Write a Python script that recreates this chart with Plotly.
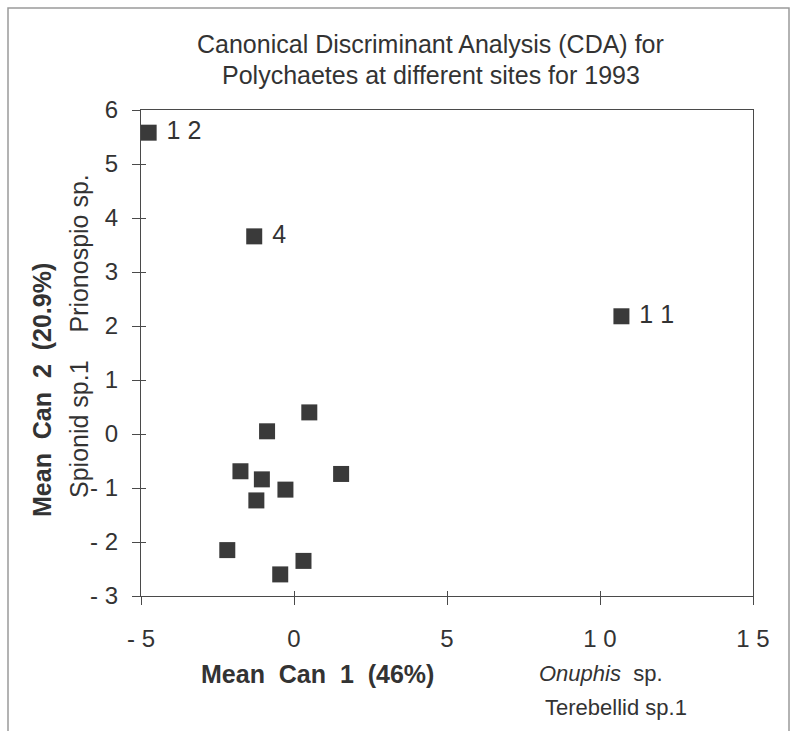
import plotly.graph_objects as go

# Site means on canonical axes
can1 = [-4.75, -1.30, 10.70, 0.50, -0.88, -1.75, -1.05, -0.28, 1.54, -1.23, -2.18, 0.31, -0.45]
can2 = [5.58, 3.66, 2.18, 0.40, 0.05, -0.69, -0.84, -1.03, -0.74, -1.23, -2.15, -2.35, -2.60]
site_labels = ["1 2", "4", "1 1", "", "", "", "", "", "", "", "", "", ""]

x_tickvals = [-5, 0, 5, 10, 15]
x_ticktext = ["- 5", "0", "5", "1 0", "1 5"]
y_tickvals = [-3, -2, -1, 0, 1, 2, 3, 4, 5, 6]
y_ticktext = ["- 3", "- 2", "- 1", "0", "1", "2", "3", "4", "5", "6"]

FONT = "Liberation Sans, Arial, Helvetica, sans-serif"
TXT = "#333333"
W, H = 792, 731
L, R, T, B = 141, 39, 110, 135
PW, PH = W - L - R, H - T - B


def px(xp):
    return (xp - L) / PW


def py(yp):
    return (H - B - yp) / PH


fig = go.Figure()
fig.add_trace(go.Scatter(
    x=can1, y=can2, mode="markers+text",
    marker=dict(symbol="square", size=16, color="#3a3a3a"),
    text=[(" " + s) if s else "" for s in site_labels],
    textposition="middle right",
    textfont=dict(family=FONT, size=25, color=TXT),
    cliponaxis=False, showlegend=False,
))
# invisible trace carrying the inner half of the crossing ticks
fig.add_trace(go.Scatter(x=[can1[0]], y=[can2[0]], xaxis="x2", yaxis="y2",
                         mode="markers", marker=dict(opacity=0), showlegend=False,
                         hoverinfo="skip"))

axis_common = dict(showgrid=False, zeroline=False, linecolor="#4a4a4a", linewidth=1.2,
                   tickcolor="#4a4a4a", tickwidth=1)
fig.update_layout(
    width=W, height=H, margin=dict(l=L, r=R, t=T, b=B),
    paper_bgcolor="white", plot_bgcolor="white",
    xaxis=dict(range=[-5, 15], tickvals=x_tickvals, ticktext=x_ticktext,
               ticks="outside", ticklen=8, mirror=True, showline=True,
               tickfont=dict(family=FONT, size=24, color=TXT), ticklabelstandoff=13,
               **axis_common),
    yaxis=dict(range=[-3, 6], tickvals=y_tickvals, ticktext=y_ticktext,
               ticks="outside", ticklen=8, mirror=True, showline=True,
               tickfont=dict(family=FONT, size=24, color=TXT), ticklabelstandoff=9,
               **axis_common),
    xaxis2=dict(range=[-5, 15], overlaying="x", tickvals=x_tickvals, showticklabels=False,
                ticks="inside", ticklen=5, showline=False, showgrid=False, zeroline=False,
                tickcolor="#4a4a4a"),
    yaxis2=dict(range=[-3, 6], overlaying="y", tickvals=y_tickvals, showticklabels=False,
                ticks="inside", ticklen=5, showline=False, showgrid=False, zeroline=False,
                tickcolor="#4a4a4a"),
)

ann = []
def add(text, xp, yp, size=25, angle=0):
    ann.append(dict(text=text, x=px(xp), y=py(yp), xref="paper", yref="paper",
                    showarrow=False, textangle=angle, xanchor="center", yanchor="middle",
                    font=dict(family=FONT, size=size, color=TXT)))

add("Canonical Discriminant Analysis (CDA) for", 430, 44)
add("Polychaetes at different sites for 1993", 431, 75)
add("<b>Mean  Can  1  (46%)</b>", 317, 674)
add("<i>Onuphis</i>  sp.", 601, 673, size=22)
add("Terebellid sp.1", 616, 707, size=22)
add("<b>Mean  Can  2  (20.9%)</b>", 42, 390, angle=-90)
add("Spionid sp.1    Prionospio sp.", 79, 336, angle=-90)
fig.update_layout(annotations=ann)

# outer frame of the figure panel
fig.add_shape(type="rect", xref="paper", yref="paper",
              x0=px(8), x1=px(789), y0=py(745), y1=py(8),
              line=dict(color="#9a9a9a", width=1.5))

fig.write_html("out.html")
